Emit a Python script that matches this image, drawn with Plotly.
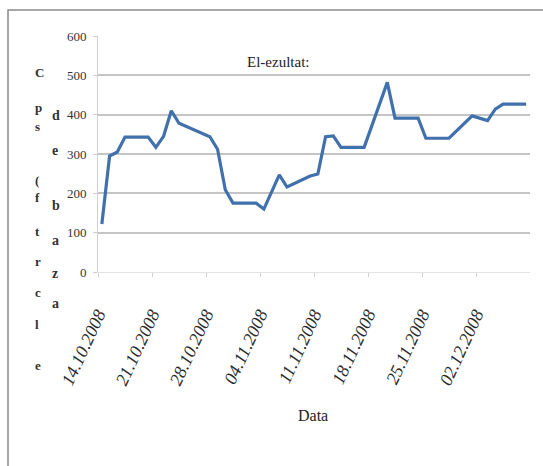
import plotly.graph_objects as go
import pandas as pd

# ---- data ----
dates = ["2008-10-14", "2008-10-15", "2008-10-16", "2008-10-17", "2008-10-20",
         "2008-10-21", "2008-10-22", "2008-10-23", "2008-10-24", "2008-10-28",
         "2008-10-29", "2008-10-30", "2008-10-31", "2008-11-03", "2008-11-04",
         "2008-11-06", "2008-11-07", "2008-11-10", "2008-11-11", "2008-11-12",
         "2008-11-13", "2008-11-14", "2008-11-17", "2008-11-20", "2008-11-21",
         "2008-11-24", "2008-11-25", "2008-11-28", "2008-12-01", "2008-12-03",
         "2008-12-04", "2008-12-05", "2008-12-08"]
values = [122, 295, 305, 343, 343, 317, 345, 410, 378, 344, 312, 209, 175, 175,
          160, 247, 216, 244, 249, 344, 346, 317, 317, 482, 391, 391, 340, 340,
          397, 385, 414, 427, 427]
tick_dates = ["2008-10-14", "2008-10-21", "2008-10-28", "2008-11-04",
              "2008-11-11", "2008-11-18", "2008-11-25", "2008-12-02"]
y_ticks = [0, 100, 200, 300, 400, 500, 600]
title_text = "El-ezultat:"
x_title = "Data"
y_title_left = ["C", "p", "s", "(", "f", "t", "r", "c", "l", "e"]
y_title_right = ["d", "e", "b", "a", "z", "a"]

W, H = 543, 466
L, R, T, B = 98, 13, 36, 194
PW, PH = W - L - R, H - T - B


def px(x, y):
    return (x - L) / PW, 1 - (y - T) / PH


# points sit in the middle of each day slot on the date axis
x_pts = pd.to_datetime(dates) + pd.Timedelta(hours=12)
tick_vals = pd.to_datetime(tick_dates)
tick_text = [d.strftime("%d.%m.%Y") for d in tick_vals]

fig = go.Figure()
fig.add_trace(go.Scatter(
    x=x_pts, y=values, mode="lines",
    line=dict(color="#4171ad", width=3.2),
    showlegend=False, hoverinfo="skip",
))

serif = "Liberation Serif"

fig.update_layout(
    width=W, height=H,
    margin=dict(l=L, r=R, t=T, b=B, pad=0),
    paper_bgcolor="white", plot_bgcolor="white",
    font=dict(family=serif, color="#222"),
    xaxis=dict(
        range=[pd.Timestamp("2008-10-14"), pd.Timestamp("2008-12-09")],
        tickmode="array", tickvals=tick_vals, ticktext=tick_text,
        tickangle=-65, ticklabelstandoff=20,
        tickfont=dict(family=serif, size=18, color="#2a2a2a", style="italic"),
        showgrid=False, zeroline=False,
        showline=True, linecolor="#e2e2e2", linewidth=1,
        ticks="outside", ticklen=4, tickcolor="#d0d0d0",
    ),
    yaxis=dict(
        range=[0, 600], tickmode="array", tickvals=y_ticks,
        tickfont=dict(family=serif, size=13, color="#333"),
        ticklabelstandoff=4,
        showgrid=True, gridcolor="#c4c4c4", gridwidth=2,
        zeroline=False,
        showline=True, linecolor="#cfcfcf", linewidth=1,
        ticks="outside", ticklen=4, tickcolor="#cfcfcf",
    ),
)

ann = []
tx, ty = px(278, 52)
ann.append(dict(text=title_text, x=tx, y=ty, xref="paper", yref="paper",
                showarrow=False, font=dict(family=serif, size=15, color="#222")))
dx, dy = px(313, 426)
ann.append(dict(text=x_title, x=dx, y=dy, xref="paper", yref="paper",
                showarrow=False, font=dict(family=serif, size=16, color="#222")))

left_y = [63, 98, 126, 180, 207, 241, 271, 302, 334, 375]
for ch, yy in zip(y_title_left, left_y):
    ax, ay = px(33, yy)
    ann.append(dict(text=ch, x=ax, y=ay, xref="paper", yref="paper",
                    showarrow=False,
                    font=dict(family=serif, size=13, color="#333", weight="bold")))
right_y = [115, 150, 215, 250, 283, 313]
for ch, yy in zip(y_title_right, right_y):
    ax, ay = px(50, yy)
    ann.append(dict(text=ch, x=ax, y=ay, xref="paper", yref="paper",
                    showarrow=False,
                    font=dict(family=serif, size=14, color="#333", weight="bold")))
fig.update_layout(annotations=ann)

bx0, by0 = px(8, 470)
bx1, by1 = px(570, 10)
fig.add_shape(type="rect", xref="paper", yref="paper",
              x0=bx0, y0=by0, x1=bx1, y1=by1,
              line=dict(color="#8a8a8a", width=1.5), fillcolor="rgba(0,0,0,0)",
              layer="below")

fig.write_html("out.html")
